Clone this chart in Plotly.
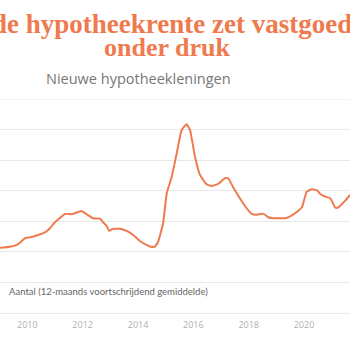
import plotly.graph_objects as go

dates = [
    "2009-01-05", "2009-05-15", "2009-07-20", "2009-09-25", "2009-11-28",
    "2010-02-05", "2010-04-12", "2010-06-18", "2010-08-22", "2010-10-27",
    "2010-12-10", "2011-02-15", "2011-05-12", "2011-08-08", "2011-09-20",
    "2011-12-16", "2012-02-24", "2012-05-18", "2012-08-18", "2012-10-01",
    "2012-11-14", "2012-12-16", "2013-01-20", "2013-05-08", "2013-08-04",
    "2013-10-30", "2014-01-26", "2014-04-22", "2014-06-28", "2014-08-10",
    "2014-09-24", "2014-11-28", "2015-01-15", "2015-03-22", "2015-05-27",
    "2015-07-31", "2015-10-05", "2015-11-18", "2016-01-23", "2016-03-29",
    "2016-06-24", "2016-08-28", "2016-11-24", "2017-02-20", "2017-04-05",
    "2017-06-10", "2017-09-06", "2017-12-05", "2018-02-09", "2018-04-16",
    "2018-07-13", "2018-09-17", "2018-11-22", "2019-05-15", "2019-07-19",
    "2019-09-23", "2019-12-05", "2020-02-06", "2020-04-16", "2020-06-21",
    "2020-08-04", "2020-10-09", "2020-12-13", "2021-02-17", "2021-04-01",
    "2021-06-28", "2021-09-01", "2021-11-05",
]
values = [
    10680, 10850, 11010, 11500, 12220,
    12390, 12600, 12880, 13200, 13860,
    14560, 15330, 16200, 16150, 16310,
    16690, 16150, 15490, 15430, 14770,
    14230, 13420, 13690, 13790, 13420,
    12760, 11780, 11130, 10800, 10850,
    11670, 14680, 19580, 22300, 26130,
    29940, 30870, 29940, 25570, 22580,
    21060, 20780, 21100, 22040, 22040,
    20570, 18770, 17130, 16200, 16080,
    16250, 15660, 15490, 15540, 15920,
    16480, 17290, 19850, 20240, 20070,
    19470, 19030, 18770, 17230, 17290,
    18370, 19310, 20000,
]

title_line1 = "Stijgende hypotheekrente zet vastgoedmarkt"
title_line2 = "onder druk"
subtitle = "Nieuwe hypotheekleningen"
axis_note = "Aantal (12-maands voortschrijdend gemiddelde)"

ORANGE = "#EF7A4E"

fig = go.Figure()
fig.add_trace(go.Scatter(
    x=dates, y=values, mode="lines",
    line=dict(color="#F07A4F", width=2, shape="spline", smoothing=0.4),
    hoverinfo="skip", showlegend=False,
))

fig.update_layout(
    width=350, height=350,
    margin=dict(l=0, r=0, t=99, b=37),
    paper_bgcolor="white", plot_bgcolor="white",
    xaxis=dict(
        type="date", range=["2009-01-05", "2021-08-30"],
        tick0="2010-01-01", dtick="M24", tickformat="%Y",
        showgrid=False, zeroline=False, showline=False, ticks="",
        ticklabelstandoff=5,
        tickfont=dict(family="Open Sans", size=9, color="#B0B0B0"),
    ),
    yaxis=dict(
        range=[0, 35000], dtick=5000, showticklabels=False,
        showgrid=True, gridcolor="#E8E8E8", gridwidth=1,
        zeroline=True, zerolinecolor="#E8E8E8", zerolinewidth=1,
        showline=True, linecolor="rgba(0,0,0,0)", mirror=False, ticks="",
    ),
    shapes=[
        dict(type="line", xref="paper", yref="y", x0=0, x1=1, y0=35000, y1=35000,
             line=dict(color="#E8E8E8", width=1), layer="below"),
    ],
    annotations=[
        dict(text="<b>" + title_line1 + "</b>", xref="paper", yref="paper",
             x=167 / 350, y=1.350, xanchor="center", yanchor="middle", showarrow=False,
             font=dict(family="Liberation Serif", size=27, color=ORANGE)),
        dict(text="<b>" + title_line2 + "</b>", xref="paper", yref="paper",
             x=167 / 350, y=1.240, xanchor="center", yanchor="middle", showarrow=False,
             font=dict(family="Liberation Serif", size=26, color=ORANGE)),
        dict(text=subtitle, xref="paper", yref="paper",
             x=44 / 350, y=1.098, xanchor="left", yanchor="middle", showarrow=False,
             font=dict(family="Open Sans", size=14.5, color="#777777")),
        dict(text=axis_note, xref="paper", yref="paper",
             x=7 / 350, y=0.0995, xanchor="left", yanchor="middle", showarrow=False,
             font=dict(family="Lato", size=9.5, color="#666666")),
    ],
)

fig.write_html("out.html")
